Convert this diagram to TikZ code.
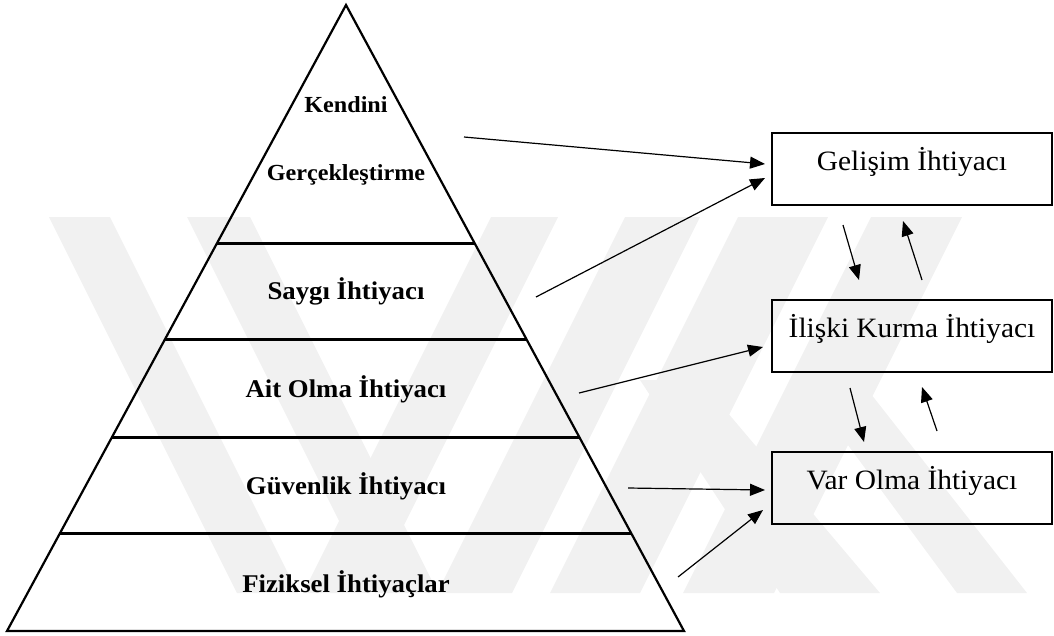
\documentclass[tikz,border=0pt]{standalone}
\usepackage{fontspec}
\setmainfont{Liberation Serif}
\newfontfamily\lblfont[FakeStretch=1.05]{Liberation Serif}
\usetikzlibrary{arrows.meta,calc}

\definecolor{wmgray}{HTML}{F1F1F1}

\tikzset{
  outline/.style={line width=2.2pt, line join=miter},
  layerline/.style={line width=3pt},
  levelname/.style={font=\lblfont\fontsize{25.5}{28}\selectfont\bfseries, anchor=base, inner sep=0pt},
  toplevelname/.style={font=\lblfont\fontsize{23}{26}\selectfont\bfseries, anchor=base, inner sep=0pt},
  needbox/.style={draw, line width=2.6pt, minimum width=280pt, minimum height=72pt,
    text height=20pt, text depth=17pt, inner sep=0pt,
    font=\lblfont\fontsize{28}{30}\selectfont},
  link/.style={line width=1.2pt, -{Triangle[length=15pt,width=12pt]}},
  wm/.style={fill=wmgray, draw=none}
}

\begin{document}
\begin{tikzpicture}[x=1pt,y=-1pt]
  \useasboundingbox (0,0) rectangle (1054,635);

  % faint background emblem
  \fill[wm] (49,217) -- (110,217) -- (298,593) -- (237,593) -- cycle;
  \fill[wm] (187,217) -- (250,217) -- (438,593) -- (375,593) -- cycle;
  \fill[wm] (491,217) -- (558,217) -- (370,593) -- (303,593) -- cycle;
  \fill[wm] (625,217) -- (700,217) -- (512,593) -- (437,593) -- cycle;
  \fill[wm] (738,217) -- (828,217) -- (640,593) -- (550,593) -- cycle;
  \fill[wm] (871,217) -- (962,217) -- (774,593) -- (683,593) -- cycle;
  \fill[wm] (640,380) -- (700,380) -- (880,593) -- (780,593) -- cycle;
  \fill[wm] (800,380) -- (860,380) -- (1027,593) -- (957,593) -- cycle;

  % pyramid corners
  \coordinate (apex) at (346,5);
  \coordinate (bl) at (7,631);
  \coordinate (br) at (684,631);

  % level boundaries on the two slanted sides
  \foreach \n/\t in {1/0.3802, 2/0.5351, 3/0.6901, 4/0.8435} {
    \coordinate (l\n) at ($(apex)!\t!(bl)$);
    \coordinate (r\n) at ($(apex)!\t!(br)$);
  }

  \draw[outline] (apex) -- (bl) -- (br) -- cycle;
  \foreach \n in {1,2,3,4} \draw[layerline] (l\n) -- (r\n);

  % level names
  \node[toplevelname] (kendini) at (346,112) {Kendini};
  \node[toplevelname] (gercek) at (346,180) {Gerçekleştirme};
  \node[levelname] (saygi) at (346,299) {Saygı İhtiyacı};
  \node[levelname] (ait) at (346,397) {Ait Olma İhtiyacı};
  \node[levelname] (guven) at (346,494) {Güvenlik İhtiyacı};
  \node[levelname] (fizik) at (346,592) {Fiziksel İhtiyaçlar};

  % ERG boxes
  \node[needbox] (gelisim) at (912,169) {Gelişim İhtiyacı};
  \node[needbox] (iliski) at (912,336) {İlişki Kurma İhtiyacı};
  \node[needbox] (varolma) at (912,488) {Var Olma İhtiyacı};

  % arrow ends
  \coordinate (s1) at (464,137);
  \coordinate (e1) at (765,164);
  \coordinate (s2) at (536,297);
  \coordinate (e2) at (765,178);
  \coordinate (s3) at (579,393);
  \coordinate (e3) at (763,347);
  \coordinate (s4) at (628,488);
  \coordinate (e4) at (765,490);
  \coordinate (s5) at (678,577);
  \coordinate (e5) at (763,510);
  \coordinate (d1s) at (843,225);
  \coordinate (d1e) at (859,280);
  \coordinate (u1s) at (922,280);
  \coordinate (u1e) at (903,221);
  \coordinate (d2s) at (850,388);
  \coordinate (d2e) at (864,442);
  \coordinate (u2s) at (937,431);
  \coordinate (u2e) at (922,387);

  \draw[link] (s1) -- (e1);
  \draw[link] (s2) -- (e2);
  \draw[link] (s3) -- (e3);
  \draw[link] (s4) -- (e4);
  \draw[link] (s5) -- (e5);
  \draw[link] (d1s) -- (d1e);
  \draw[link] (u1s) -- (u1e);
  \draw[link] (d2s) -- (d2e);
  \draw[link] (u2s) -- (u2e);
\end{tikzpicture}
\end{document}
